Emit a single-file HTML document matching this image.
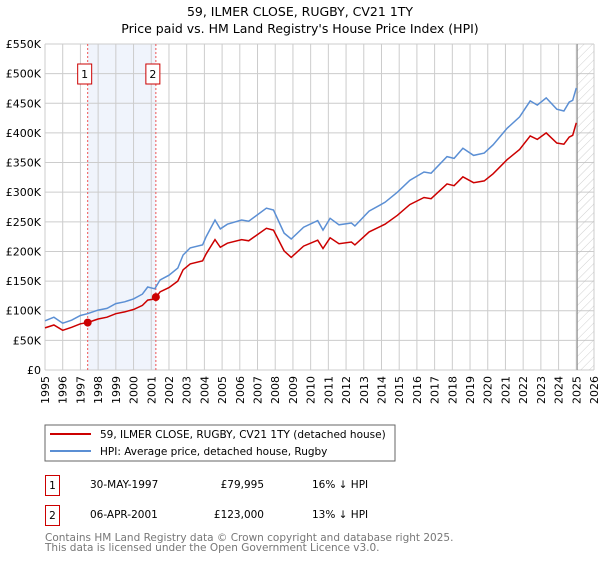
<!DOCTYPE html>
<html><head><meta charset="utf-8"><style>
body{margin:0;background:#fff;font-family:"Liberation Sans","DejaVu Sans",sans-serif;}
svg text{font-family:"DejaVu Sans","Liberation Sans",sans-serif;}
</style></head><body>
<svg id="c" width="600" height="560" xmlns="http://www.w3.org/2000/svg">
<defs><pattern id="hatch" width="6" height="6" patternUnits="userSpaceOnUse" patternTransform="rotate(45)"><line x1="0" y1="0" x2="0" y2="6" stroke="#bbb" stroke-width="0.7"/></pattern></defs>
<text x="300" y="16" text-anchor="middle" font-size="12.5">59, ILMER CLOSE, RUGBY, CV21 1TY</text>
<text x="300" y="33" text-anchor="middle" font-size="12.5">Price paid vs. HM Land Registry's House Price Index (HPI)</text>
<g id="grid"></g>
<g id="series"></g>
<rect x="45" y="425" width="350" height="36" fill="#fff" stroke="#666"/>
<line x1="50" y1="434" x2="91" y2="434" stroke="#cc0000" stroke-width="2"/>
<text x="100" y="438" font-size="10.5">59, ILMER CLOSE, RUGBY, CV21 1TY (detached house)</text>
<line x1="50" y1="451" x2="91" y2="451" stroke="#5b8fd4" stroke-width="2"/>
<text x="100" y="455" font-size="10.5">HPI: Average price, detached house, Rugby</text>
<g font-size="10.5">
<rect x="45.5" y="475.5" width="14" height="20" fill="none" stroke="#cc0000"/><text x="52.5" y="489" text-anchor="middle">1</text>
<text x="90" y="488">30-MAY-1997</text><text x="264" y="488" text-anchor="end">£79,995</text><text x="312" y="488">16% ↓ HPI</text>
<rect x="45.5" y="505.5" width="14" height="20" fill="none" stroke="#cc0000"/><text x="52.5" y="519" text-anchor="middle">2</text>
<text x="90" y="518">06-APR-2001</text><text x="264" y="518" text-anchor="end">£123,000</text><text x="312" y="518">13% ↓ HPI</text>
</g>
<text x="45" y="541" font-size="10.5" fill="#777">Contains HM Land Registry data © Crown copyright and database right 2025.</text>
<text x="45" y="551" font-size="10.5" fill="#777">This data is licensed under the Open Government Licence v3.0.</text>
</svg>
<script>
const dates=[1995.0,1995.5,1996.0,1996.5,1997.0,1997.4,1998.0,1998.5,1999.0,1999.5,2000.0,2000.5,2000.8,2001.2,2001.5,2002.0,2002.5,2002.8,2003.2,2003.9,2004.1,2004.6,2004.9,2005.3,2006.1,2006.5,2007.5,2007.9,2008.5,2008.9,2009.6,2010.4,2010.7,2011.1,2011.6,2012.3,2012.5,2013.3,2014.2,2014.9,2015.6,2016.4,2016.8,2017.7,2018.1,2018.6,2019.2,2019.8,2020.3,2021.1,2021.8,2022.4,2022.8,2023.3,2023.9,2024.3,2024.6,2024.8,2025.0];
const hpi=[83,89,79,84,92,95,101,104,112,115,120,128,140,137,152,160,172,194,206,211,225,253,238,246,253,251,273,270,231,221,241,252,236,256,245,248,243,268,283,300,320,334,332,360,357,374,362,366,380,408,427,454,447,459,440,437,452,455,476];
const pricePaid=[71,76,67,72,78,80,86,89,95,98,102,109,118,120,132,139,150,169,179,184,196,220,207,214,220,218,239,236,201,190,209,219,205,223,213,216,211,233,246,261,279,291,289,314,311,326,316,319,331,355,372,395,389,400,383,381,393,396,417];
const saleDates=[1997.41,2001.26];
const salePrices=[79.995,123];
const saleLabels=["1","2"];
const yTicks=[0,50,100,150,200,250,300,350,400,450,500,550];
const xTicks=[1995,1996,1997,1998,1999,2000,2001,2002,2003,2004,2005,2006,2007,2008,2009,2010,2011,2012,2013,2014,2015,2016,2017,2018,2019,2020,2021,2022,2023,2024,2025,2026];
const X0=45,X1=594,Y0=370,Y1=44;
const xs=y=>X0+(y-1995)/(2026-1995)*(X1-X0);
const ys=v=>Y0-v/550*(Y0-Y1);
const NS="http://www.w3.org/2000/svg";
function mk(tag,attrs,parent){const e=document.createElementNS(NS,tag);for(const k in attrs)e.setAttribute(k,attrs[k]);parent.appendChild(e);return e;}
const g=document.getElementById('grid'),s=document.getElementById('series');
let shade=mk('rect',{x:xs(saleDates[0]),y:Y1,width:xs(saleDates[1])-xs(saleDates[0]),height:Y0-Y1,fill:'#f0f4fc'},g);


xTicks.forEach(t=>{
 const l=mk('line',{x1:xs(t),x2:xs(t),y1:Y1,y2:Y0,stroke:'#ccc','stroke-width':1},g);
 
 
 const tx=mk('text',{transform:`translate(${xs(t)+4},${Y0+6}) rotate(-90)`,'text-anchor':'end','font-size':11},g);
 tx.textContent=t;
 
 
});
yTicks.forEach(t=>{
 const l=mk('line',{x1:X0,x2:X1,y1:ys(t),y2:ys(t),stroke:'#ccc','stroke-width':1},g);
 
 
 const tx=mk('text',{x:X0-4,y:ys(t)+4,'text-anchor':'end','font-size':11},g);
 tx.textContent=t===0?'£0':'£'+t+'K';
 
 
});
const h=mk('rect',{x:xs(2025.05),y:Y1,width:X1-xs(2025.05),height:Y0-Y1,fill:'url(#hatch)'},g);


const hl=mk('line',{x1:xs(2025.05),x2:xs(2025.05),y1:Y1,y2:Y0,stroke:'#888'},g);


saleDates.forEach((d,i)=>{
 const l=mk('line',{x1:xs(d),x2:xs(d),y1:Y1,y2:Y0,stroke:'#e55','stroke-dasharray':'2,2','stroke-width':1},g);
 
 
 const r=mk('rect',{x:xs(d)-10,y:64,width:14,height:20,fill:'#fff',stroke:'#cc0000'},g);
 
 
 const t=mk('text',{x:xs(d)-3,y:78,'text-anchor':'middle','font-size':11},g);
 t.textContent=saleLabels[i];
 
 
});
const pts=a=>a.map((v,i)=>xs(dates[i]).toFixed(1)+','+ys(v).toFixed(1)).join(' ');
const b=mk('polyline',{points:pts(hpi),fill:'none',stroke:'#5b8fd4','stroke-width':1.5},s);


const r=mk('polyline',{points:pts(pricePaid),fill:'none',stroke:'#cc0000','stroke-width':1.5},s);


saleDates.forEach((d,i)=>{
 const c=mk('circle',{cx:xs(d),cy:ys(salePrices[i]),r:4,fill:'#cc0000'},s);
 
 
});
</script>
</body></html>
